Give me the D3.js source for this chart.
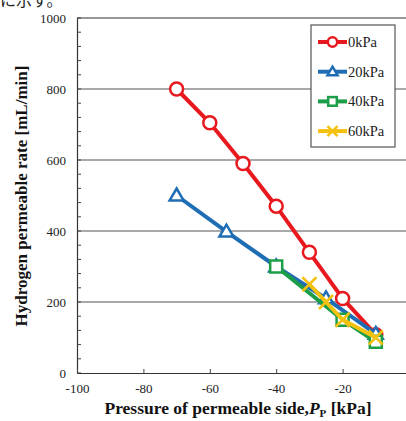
<!DOCTYPE html>
<html>
<head>
  <meta charset="utf-8">
  <script src="https://cdn.jsdelivr.net/npm/d3@7"></script>
  <style>
    body { margin: 0; background: #fff; }
    svg { display: block; }
  </style>
</head>
<body>
<svg id="chart" width="406" height="421"></svg>
<script>
  // series data
  const names = ['0kPa', '20kPa', '40kPa', '60kPa'];
  const colors = ['#e8191e', '#1f6db4', '#1c9e49', '#f4c10f'];
  const shapes = ['circle', 'triangle', 'square', 'cross'];
  const s0 = [[-70, 800], [-60, 705], [-50, 590], [-40, 470], [-30, 340], [-20, 210], [-10, 108]];
  const s20 = [[-70, 500], [-55, 398], [-40, 300], [-25, 210], [-10, 110]];
  const s40 = [[-40, 300], [-20, 150], [-10, 88]];
  const s60 = [[-30, 250], [-25, 200], [-20, 150], [-10, 100]];
  const series = [s0, s20, s40, s60];
  const xTicks = [-100, -80, -60, -40, -20];
  const yTicks = [0, 200, 400, 600, 800, 1000];

  const svg = d3.select('#chart');
  const x = d3.scaleLinear().domain([-100, 0]).range([77, 409]);
  const y = d3.scaleLinear().domain([0, 1000]).range([373, 18]);
  const serif = '"Liberation Serif", "Times New Roman", serif';

  // caption line cut by the top edge
  svg.append('text')
    .attr('x', 0).attr('y', 6)
    .attr('font-family', '"Noto Sans CJK JP", sans-serif')
    .attr('font-size', 16)
    .attr('fill', '#222')
    .text('に示す。');

  // gridlines
  svg.append('g').selectAll('line')
    .data(yTicks.filter(d => d > 0 && d < 1000))
    .join('line')
    .attr('x1', x(-100)).attr('x2', 406)
    .attr('y1', d => y(d)).attr('y2', d => y(d))
    .attr('stroke', '#555').attr('stroke-width', 1.2);

  // y axis
  const yAxis = svg.append('g').attr('transform', `translate(${x(-100)},0)`)
    .call(d3.axisLeft(y).tickValues(yTicks).tickSize(0).tickPadding(11).tickFormat(d => String(d)));
  yAxis.select('.domain').attr('stroke', '#333').attr('stroke-width', 1.2);
  yAxis.selectAll('text').attr('font-family', serif).attr('font-size', 13).attr('fill', '#222');
  // minor ticks inside
  svg.append('g').selectAll('line')
    .data(d3.range(0, 1001, 40))
    .join('line')
    .attr('x1', x(-100)).attr('x2', x(-100) + 4)
    .attr('y1', d => y(d)).attr('y2', d => y(d))
    .attr('stroke', '#444').attr('stroke-width', 1);

  // x axis
  const xAxis = svg.append('g').attr('transform', `translate(0,${y(0)})`)
    .call(d3.axisBottom(x).tickValues(xTicks).tickSizeInner(-4).tickSizeOuter(0).tickPadding(11).tickFormat(d => String(d)));
  xAxis.select('.domain').attr('stroke', '#333').attr('stroke-width', 1.2);
  xAxis.selectAll('.tick line').attr('stroke', '#444');
  xAxis.selectAll('text').attr('font-family', serif).attr('font-size', 13).attr('fill', '#222');

  // top border
  svg.append('line')
    .attr('x1', x(-100)).attr('x2', 406)
    .attr('y1', y(1000)).attr('y2', y(1000))
    .attr('stroke', '#333').attr('stroke-width', 1.2);

  // marker helper
  function marker(g, shape, color, cx, cy, k) {
    const s = k || 1;
    if (shape === 'circle') {
      g.append('circle').attr('cx', cx).attr('cy', cy).attr('r', 6.5 * s)
        .attr('fill', '#fff').attr('stroke', color).attr('stroke-width', 2.5);
    } else if (shape === 'triangle') {
      const h = 7 * s;
      g.append('path')
        .attr('d', `M${cx},${cy - h}L${cx + h},${cy + h * 0.7}L${cx - h},${cy + h * 0.7}Z`)
        .attr('fill', '#fff').attr('stroke', color).attr('stroke-width', 2.5);
    } else if (shape === 'square') {
      const h = 6 * s;
      g.append('rect').attr('x', cx - h).attr('y', cy - h).attr('width', 2 * h).attr('height', 2 * h)
        .attr('fill', '#fff').attr('stroke', color).attr('stroke-width', 2.5);
    } else {
      const h = 7 * s;
      g.append('path')
        .attr('d', `M${cx - h},${cy - h}L${cx + h},${cy + h}M${cx + h},${cy - h}L${cx - h},${cy + h}`)
        .attr('fill', 'none').attr('stroke', color).attr('stroke-width', 2.5);
    }
  }

  const line = d3.line().x(d => x(d[0])).y(d => y(d[1]));
  series.forEach((data, i) => {
    const g = svg.append('g');
    g.append('path').datum(data).attr('d', line)
      .attr('fill', 'none').attr('stroke', colors[i]).attr('stroke-width', 4);
    data.forEach(d => marker(g, shapes[i], colors[i], x(d[0]), y(d[1])));
  });

  // legend
  const lg = svg.append('g');
  lg.append('rect').attr('x', 311).attr('y', 25).attr('width', 84).attr('height', 122)
    .attr('fill', '#fff').attr('stroke', '#555').attr('stroke-width', 1.2);
  names.forEach((n, i) => {
    const ly = 42 + i * 29.7;
    lg.append('line').attr('x1', 318).attr('x2', 347).attr('y1', ly).attr('y2', ly)
      .attr('stroke', colors[i]).attr('stroke-width', 4);
    marker(lg, shapes[i], colors[i], 332.5, ly, 0.72);
    lg.append('text').attr('x', 348).attr('y', ly + 5)
      .attr('font-family', serif).attr('font-size', 14.5).attr('fill', '#222').text(n);
  });

  // axis titles
  const xt = svg.append('text')
    .attr('x', 238).attr('y', 414)
    .attr('text-anchor', 'middle')
    .attr('font-family', serif).attr('font-size', 17.5).attr('font-weight', 'bold').attr('fill', '#111');
  xt.append('tspan').text('Pressure of permeable side,');
  xt.append('tspan').attr('font-style', 'italic').text('P');
  xt.append('tspan').attr('font-size', 11).attr('dy', 3).text('P');
  xt.append('tspan').attr('dy', -3).text(' [kPa]');

  svg.append('text')
    .attr('transform', 'translate(27,196) rotate(-90)')
    .attr('text-anchor', 'middle')
    .attr('font-family', serif).attr('font-size', 17).attr('font-weight', 'bold').attr('fill', '#111')
    .text('Hydrogen permeable rate [mL/min]');
</script>
</body>
</html>
